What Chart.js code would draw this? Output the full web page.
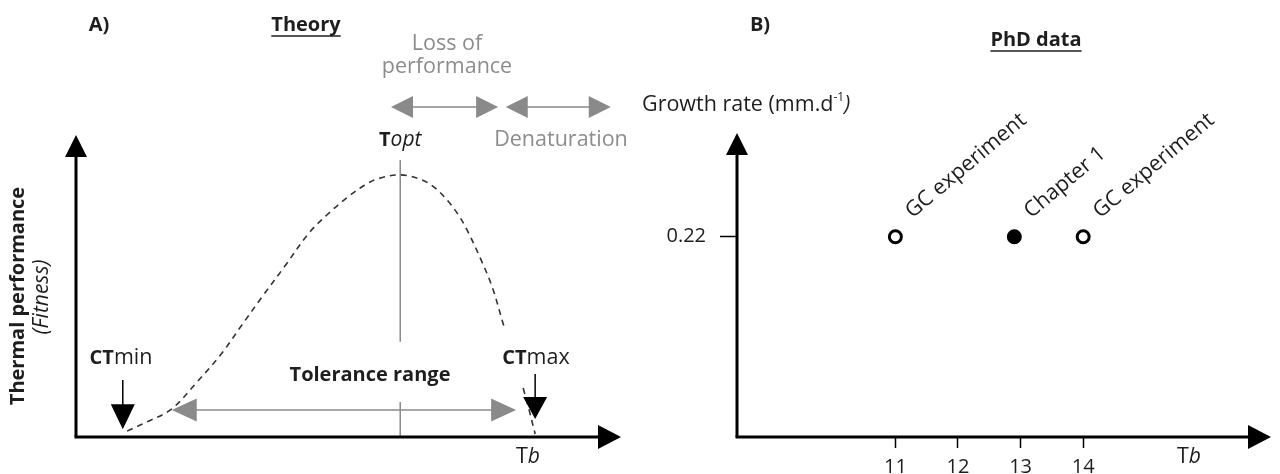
<!DOCTYPE html>
<html>
<head>
<meta charset="utf-8">
<script src="https://cdn.jsdelivr.net/npm/chart.js@4.4.0/dist/chart.umd.min.js"></script>
<style>
  html, body { margin: 0; padding: 0; background: #fff; }
  #wrap { position: relative; width: 1280px; height: 474px; }
  .box { position: absolute; top: 0; width: 640px; height: 474px; }
</style>
</head>
<body>
<div id="wrap">
  <div class="box" style="left:0"><canvas id="theoryChart"></canvas></div>
  <div class="box" style="left:640px"><canvas id="phdChart"></canvas></div>
</div>
<script>
// ---- Panel A: theoretical thermal performance curve (arbitrary units) ----
const curveX = [0.94, 1.34, 1.76, 2.21, 2.67, 3.05, 3.42, 3.84, 4.28, 4.67, 5.00, 5.28, 5.53, 5.96,
                6.36, 6.60, 6.82, 7.02, 7.19, 7.43, 7.65, 7.87, 7.95, 8.22, 8.33, 8.44];
const curveY = [0.02, 0.053, 0.093, 0.179, 0.275, 0.371, 0.464, 0.566, 0.675, 0.745, 0.795, 0.831, 0.854, 0.868,
                0.851, 0.825, 0.785, 0.738, 0.685, 0.593, 0.497, 0.364, null, 0.162, 0.089, 0.01];
const toptX = 5.96;
const toptLineY = [0.917, 0.315, null, 0.116, 0];
const ctMinX = 0.86;
const ctMaxX = 8.44;
const toleranceRange = [1.76, 8.09];
const lossRange = [5.79, 7.76];
const denatRange = [7.90, 9.83];

// ---- Panel B: PhD data ----
const tbValues = [11, 12.9, 14];
const growthValues = [0.22, 0.22, 0.22];
const pointLabels = ["GC experiment", "Chapter 1", "GC experiment"];
const pointFilled = [false, true, false];
const tbTicks = [11, 12, 13, 14];
const growthTicks = [0.22];

const FONT = '"Open Sans", Lato, sans-serif';
const INK = "#1e1e1e";
const GREY = "#8c8c8c";
const B = "bold 20px " + FONT, R = "21.5px " + FONT, I = "italic 21px " + FONT;

// draw a run of text pieces with mixed styles
function drawRuns(ctx, runs, x, y, align) {
  let total = 0;
  runs.forEach(r => { ctx.font = r.font; total += ctx.measureText(r.text).width; });
  let cx = align === "left" ? x : x - total / 2;
  ctx.textBaseline = "middle";
  ctx.textAlign = "left";
  runs.forEach(r => {
    ctx.font = r.font;
    ctx.fillStyle = r.color || INK;
    ctx.fillText(r.text, cx, y + (r.dy || 0));
    cx += ctx.measureText(r.text).width;
  });
  return total;
}

function underlined(ctx, text, font, x, y) {
  ctx.font = font;
  ctx.fillStyle = INK;
  ctx.textAlign = "center";
  ctx.textBaseline = "middle";
  ctx.fillText(text, x, y);
  const w = ctx.measureText(text).width;
  ctx.strokeStyle = INK;
  ctx.lineWidth = 1.5;
  ctx.beginPath();
  ctx.moveTo(x - w / 2, y + 11);
  ctx.lineTo(x + w / 2, y + 11);
  ctx.stroke();
}

function head(ctx, tx, ty, dx, dy, len, half, color) {
  const px = -dy, py = dx;
  ctx.fillStyle = color;
  ctx.beginPath();
  ctx.moveTo(tx, ty);
  ctx.lineTo(tx - dx * len + px * half, ty - dy * len + py * half);
  ctx.lineTo(tx - dx * len - px * half, ty - dy * len - py * half);
  ctx.closePath();
  ctx.fill();
}

function line(ctx, x1, y1, x2, y2, color, w) {
  ctx.strokeStyle = color;
  ctx.lineWidth = w;
  ctx.beginPath();
  ctx.moveTo(x1, y1);
  ctx.lineTo(x2, y2);
  ctx.stroke();
}

function axesArrows(ctx, area, xTip, yTip) {
  line(ctx, area.left, area.bottom, area.left, yTip + 20, "#000", 3);
  head(ctx, area.left, yTip, 0, -1, 22, 11, "#000");
  line(ctx, area.left - 1.5, area.bottom, xTip - 20, area.bottom, "#000", 3);
  head(ctx, xTip, area.bottom, 1, 0, 23, 12, "#000");
}

const theoryDecor = {
  id: "theoryDecor",
  afterDraw(chart) {
    const ctx = chart.ctx;
    const area = chart.chartArea;
    const xs = chart.scales.x, ys = chart.scales.y;
    ctx.save();
    axesArrows(ctx, area, area.right + 1, area.top);

    // grey double arrows at the top
    const yTop = ys.getPixelForValue(1.093);
    [lossRange, denatRange].forEach(r => {
      const a = xs.getPixelForValue(r[0]), b = xs.getPixelForValue(r[1]);
      line(ctx, a + 10, yTop, b - 10, yTop, "#8a8a8a", 1.5);
      head(ctx, a, yTop, -1, 0, 22, 11, "#8a8a8a");
      head(ctx, b, yTop, 1, 0, 22, 11, "#8a8a8a");
    });

    // tolerance range arrow
    const yTol = ys.getPixelForValue(0.089);
    const ta = xs.getPixelForValue(toleranceRange[0]), tb = xs.getPixelForValue(toleranceRange[1]);
    line(ctx, ta + 10, yTol, tb - 10, yTol, "#8a8a8a", 1.5);
    head(ctx, ta, yTol, -1, 0, 25, 11.5, "#8a8a8a");
    head(ctx, tb, yTol, 1, 0, 25, 11.5, "#8a8a8a");

    // CTmin / CTmax arrows
    const xMin = xs.getPixelForValue(ctMinX), xMax = xs.getPixelForValue(ctMaxX);
    line(ctx, xMin, ys.getPixelForValue(0.189), xMin, ys.getPixelForValue(0.07), "#000", 1.5);
    head(ctx, xMin, ys.getPixelForValue(0.026), 0, 1, 25, 12, "#000");
    line(ctx, xMax, ys.getPixelForValue(0.209), xMax, ys.getPixelForValue(0.1), "#000", 1.5);
    head(ctx, xMax, ys.getPixelForValue(0.06), 0, 1, 22, 12, "#000");

    // texts
    drawRuns(ctx, [{ text: "A)", font: B }], 99, 25);
    underlined(ctx, "Theory", B, 306, 25);
    drawRuns(ctx, [{ text: "Loss of", font: R, color: GREY }], 447, 44);
    drawRuns(ctx, [{ text: "performance", font: R, color: GREY }], 447, 67);
    drawRuns(ctx, [{ text: "Denaturation", font: R, color: GREY }], 561, 140);
    drawRuns(ctx, [{ text: "T", font: B }, { text: "opt", font: I }], xs.getPixelForValue(toptX), 140);
    drawRuns(ctx, [{ text: "CT", font: B }, { text: "min", font: R }], 121, 358);
    drawRuns(ctx, [{ text: "CT", font: B }, { text: "max", font: R }], 536, 358);
    drawRuns(ctx, [{ text: "Tolerance range", font: B }], 370, 375);
    drawRuns(ctx, [{ text: "T", font: R }, { text: "b", font: I }], 528, 457);

    ctx.save();
    ctx.translate(18, 296);
    ctx.rotate(-Math.PI / 2);
    drawRuns(ctx, [{ text: "Thermal performance", font: B }], 0, 0);
    ctx.restore();
    ctx.save();
    ctx.translate(42, 297);
    ctx.rotate(-Math.PI / 2);
    drawRuns(ctx, [{ text: "(Fitness)", font: I }], 0, 0);
    ctx.restore();
    ctx.restore();
  }
};

const phdDecor = {
  id: "phdDecor",
  afterDraw(chart) {
    const ctx = chart.ctx;
    const area = chart.chartArea;
    ctx.save();
    axesArrows(ctx, area, area.right, area.top);

    drawRuns(ctx, [{ text: "B)", font: B }], 120, 25);
    underlined(ctx, "PhD data", B, 396, 40);
    drawRuns(ctx, [
      { text: "Growth rate (mm.d", font: R },
      { text: "-1", font: "12px " + FONT, dy: -7 },
      { text: ")", font: I }
    ], 2, 105, "left");
    drawRuns(ctx, [{ text: "T", font: R }, { text: "b", font: I }], 549, 457);

    // rotated point labels
    const meta = chart.getDatasetMeta(0);
    meta.data.forEach((pt, i) => {
      ctx.save();
      ctx.translate(pt.x + 17, pt.y - 18);
      ctx.rotate(-40 * Math.PI / 180);
      ctx.font = R;
      ctx.fillStyle = INK;
      ctx.textAlign = "left";
      ctx.textBaseline = "alphabetic";
      ctx.fillText(pointLabels[i], 0, 0);
      ctx.restore();
    });
    ctx.restore();
  }
};

new Chart(document.getElementById("theoryChart"), {
  type: "scatter",
  data: {
    datasets: [
      {
        data: curveX.map((x, i) => ({ x: x, y: curveY[i] })),
        showLine: true,
        spanGaps: false,
        borderColor: "#333",
        borderWidth: 1.6,
        borderDash: [6, 5],
        tension: 0.35,
        pointRadius: 0
      },
      {
        data: toptLineY.map(y => ({ x: toptX, y: y })),
        showLine: true,
        spanGaps: false,
        borderColor: "#8a8a8a",
        borderWidth: 1.5,
        pointRadius: 0
      }
    ]
  },
  options: {
    responsive: true,
    maintainAspectRatio: false,
    animation: false,
    devicePixelRatio: 1,
    layout: { padding: { left: 76, right: 20, top: 135, bottom: 37 } },
    plugins: { legend: { display: false }, tooltip: { enabled: false } },
    scales: {
      x: { type: "linear", min: 0, max: 10, display: false },
      y: { type: "linear", min: 0, max: 1, display: false }
    }
  },
  plugins: [theoryDecor]
});

new Chart(document.getElementById("phdChart"), {
  type: "scatter",
  data: {
    datasets: [{
      data: tbValues.map((x, i) => ({ x: x, y: growthValues[i] })),
      pointRadius: 6,
      pointBorderWidth: 3,
      pointBorderColor: "#000",
      pointBackgroundColor: pointFilled.map(f => f ? "#000" : "#fff")
    }]
  },
  options: {
    responsive: true,
    maintainAspectRatio: false,
    animation: false,
    devicePixelRatio: 1,
    layout: { padding: { left: 0, right: 6, top: 133, bottom: 0 } },
    plugins: { legend: { display: false }, tooltip: { enabled: false } },
    scales: {
      x: {
        type: "linear",
        min: 8.47,
        max: 17.0,
        afterBuildTicks: s => { s.ticks = tbTicks.map(v => ({ value: v })); },
        afterFit: s => { s.height = 37; },
        border: { display: false },
        grid: { drawOnChartArea: false, tickLength: 11, tickColor: "#000", tickWidth: 1.5 },
        ticks: { color: INK, font: { family: FONT, size: 20 }, padding: 7, autoSkip: false, maxRotation: 0 }
      },
      y: {
        type: "linear",
        min: 0,
        max: 0.334,
        afterBuildTicks: s => { s.ticks = growthTicks.map(v => ({ value: v })); },
        afterFit: s => { s.width = 97; },
        border: { display: false },
        grid: { drawOnChartArea: false, tickLength: 17, tickColor: "#000", tickWidth: 1.5 },
        ticks: { color: INK, font: { family: FONT, size: 20 }, padding: 14, callback: v => v.toFixed(2) }
      }
    }
  },
  plugins: [phdDecor]
});
</script>
</body>
</html>
